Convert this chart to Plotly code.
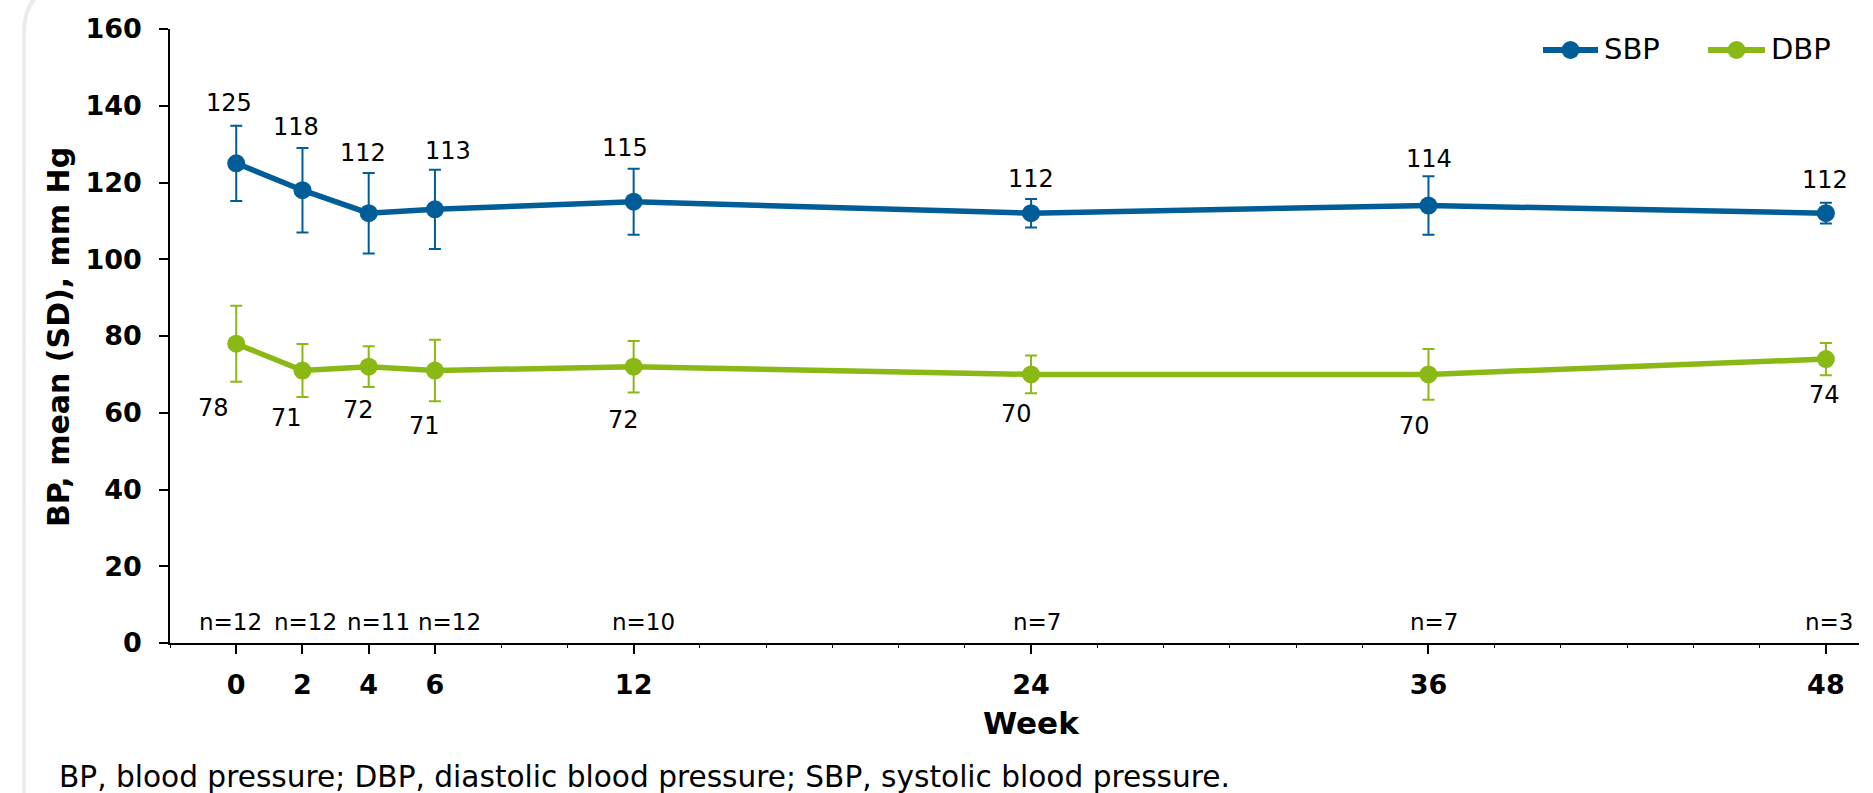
import plotly.graph_objects as go

# Visit weeks and group summaries
weeks = [0, 2, 4, 6, 12, 24, 36, 48]
sbp_mean = [125, 118, 112, 113, 115, 112, 114, 112]
sbp_sd = [9.8, 11.0, 10.5, 10.3, 8.6, 3.7, 7.6, 2.7]
dbp_mean = [78, 71, 72, 71, 72, 70, 70, 74]
dbp_sd = [9.9, 6.9, 5.3, 8.0, 6.7, 4.9, 6.6, 4.2]
n_patients = [12, 12, 11, 12, 10, 7, 7, 3]

SBP_COLOR = "#005D97"
DBP_COLOR = "#8AB815"
FONT = "DejaVu Sans"

# Pixel geometry of the figure
W, H = 1873, 793
ML, MR, MT, MB = 170, 14, 29, 150
PW, PH = W - ML - MR, H - MT - MB


def px(x):
    return (x - ML) / PW


def py(y):
    return (H - MB - y) / PH


# Hand-placed label nudges (pixels): x shift, distance from the error-bar end
sbp_lab_dx = [-7, -6, -6, 13, -9, 0, 1, -1]
sbp_lab_dy = [23, 21, 20, 19, 21, 20, 17, 23]
dbp_lab_dx = [-23, -16, -10, -10, -10, -15, -14, -1]
dbp_lab_dy = [26, 21, 23, 25, 28, 21, 26, 20]
n_lab_dx = [-6, 3, 10, 15, 10, 6, 6, 3]

fig = go.Figure()

fig.add_trace(go.Scatter(
    x=weeks, y=sbp_mean, name="SBP", mode="lines+markers",
    line=dict(color=SBP_COLOR, width=5.5),
    marker=dict(color=SBP_COLOR, size=18),
    error_y=dict(type="data", array=sbp_sd, color=SBP_COLOR, thickness=2, width=6),
    showlegend=False,
))
fig.add_trace(go.Scatter(
    x=weeks, y=dbp_mean, name="DBP", mode="lines+markers",
    line=dict(color=DBP_COLOR, width=5.5),
    marker=dict(color=DBP_COLOR, size=18),
    error_y=dict(type="data", array=dbp_sd, color=DBP_COLOR, thickness=2, width=6),
    showlegend=False,
))

annotations = []
label_font = dict(family=FONT, size=24, color="#000000")
for i, w in enumerate(weeks):
    annotations.append(dict(
        x=w, y=sbp_mean[i] + sbp_sd[i], xref="x", yref="y",
        text=str(sbp_mean[i]), showarrow=False, font=label_font,
        xanchor="center", yanchor="middle",
        xshift=sbp_lab_dx[i], yshift=sbp_lab_dy[i],
    ))
    annotations.append(dict(
        x=w, y=dbp_mean[i] - dbp_sd[i], xref="x", yref="y",
        text=str(dbp_mean[i]), showarrow=False, font=label_font,
        xanchor="center", yanchor="middle",
        xshift=dbp_lab_dx[i], yshift=-dbp_lab_dy[i],
    ))
    annotations.append(dict(
        x=w, y=py(621.5), xref="x", yref="paper",
        text=f"n={n_patients[i]}", showarrow=False,
        font=dict(family=FONT, size=23, color="#000000"),
        xanchor="center", yanchor="middle", xshift=n_lab_dx[i],
    ))

# Axis titles and footnote
annotations.append(dict(
    x=24, y=py(723), xref="x", yref="paper", text="Week", showarrow=False,
    font=dict(family=FONT, size=31, color="#000000", weight="bold"),
    xanchor="center", yanchor="middle",
))
annotations.append(dict(
    x=px(58), y=py(337), xref="paper", yref="paper", text="BP, mean (SD), mm Hg",
    showarrow=False, textangle=-90,
    font=dict(family=FONT, size=30, color="#000000", weight="bold"),
    xanchor="center", yanchor="middle",
))
annotations.append(dict(
    x=px(57), y=py(777), xref="paper", yref="paper",
    text="BP, blood pressure; DBP, diastolic blood pressure; SBP, systolic blood pressure.",
    showarrow=False, font=dict(family=FONT, size=29.6, color="#000000"),
    xanchor="left", yanchor="middle",
))

# Legend drawn as line + dot + text
shapes = []
legend_items = [("SBP", SBP_COLOR, 1543, 1598, 1602), ("DBP", DBP_COLOR, 1708, 1765, 1769)]
ly = 50
for name, color, x0, x1, tx in legend_items:
    shapes.append(dict(type="line", xref="paper", yref="paper",
                       x0=px(x0), x1=px(x1), y0=py(ly), y1=py(ly),
                       line=dict(color=color, width=6)))
    cx = (x0 + x1) / 2
    r = 9
    shapes.append(dict(type="circle", xref="paper", yref="paper",
                       x0=px(cx - r), x1=px(cx + r), y0=py(ly + r), y1=py(ly - r),
                       fillcolor=color, line=dict(width=0)))
    annotations.append(dict(
        x=px(tx), y=py(ly - 1), xref="paper", yref="paper", text=name,
        showarrow=False, font=dict(family=FONT, size=29, color="#000000"),
        xanchor="left", yanchor="middle",
    ))

# Light rounded panel edge on the left
shapes.append(dict(
    type="path", xref="paper", yref="paper",
    path=(f"M {px(24)},{py(820)} L {px(24)},{py(33)} "
          f"Q {px(24)},{py(-15)} {px(72)},{py(-15)} L {px(2100)},{py(-15)}"),
    line=dict(color="#EBEBEB", width=4), layer="below",
))

fig.update_layout(
    width=W, height=H,
    margin=dict(l=ML, r=MR, t=MT, b=MB, pad=0),
    paper_bgcolor="white", plot_bgcolor="white",
    showlegend=False,
    annotations=annotations, shapes=shapes,
    xaxis=dict(
        range=[-2, 49], tickvals=weeks, ticktext=[str(w) for w in weeks],
        showgrid=False, zeroline=False,
        showline=True, linecolor="#000000", linewidth=1.5,
        ticks="outside", ticklen=9, tickwidth=1.5, tickcolor="#000000",
        ticklabelstandoff=8,
        tickfont=dict(family=FONT, size=27, color="#000000", weight="bold"),
        minor=dict(dtick=2, tick0=0, ticks="outside", ticklen=3,
                   tickwidth=1, tickcolor="#000000"),
    ),
    yaxis=dict(
        range=[0, 160], dtick=20, tick0=0,
        showgrid=False, zeroline=False,
        showline=True, linecolor="#000000", linewidth=1.5,
        ticks="outside", ticklen=9, tickwidth=1.5, tickcolor="#000000",
        ticklabelstandoff=12,
        tickfont=dict(family=FONT, size=27, color="#000000", weight="bold"),
    ),
)

fig.write_html("out.html")
